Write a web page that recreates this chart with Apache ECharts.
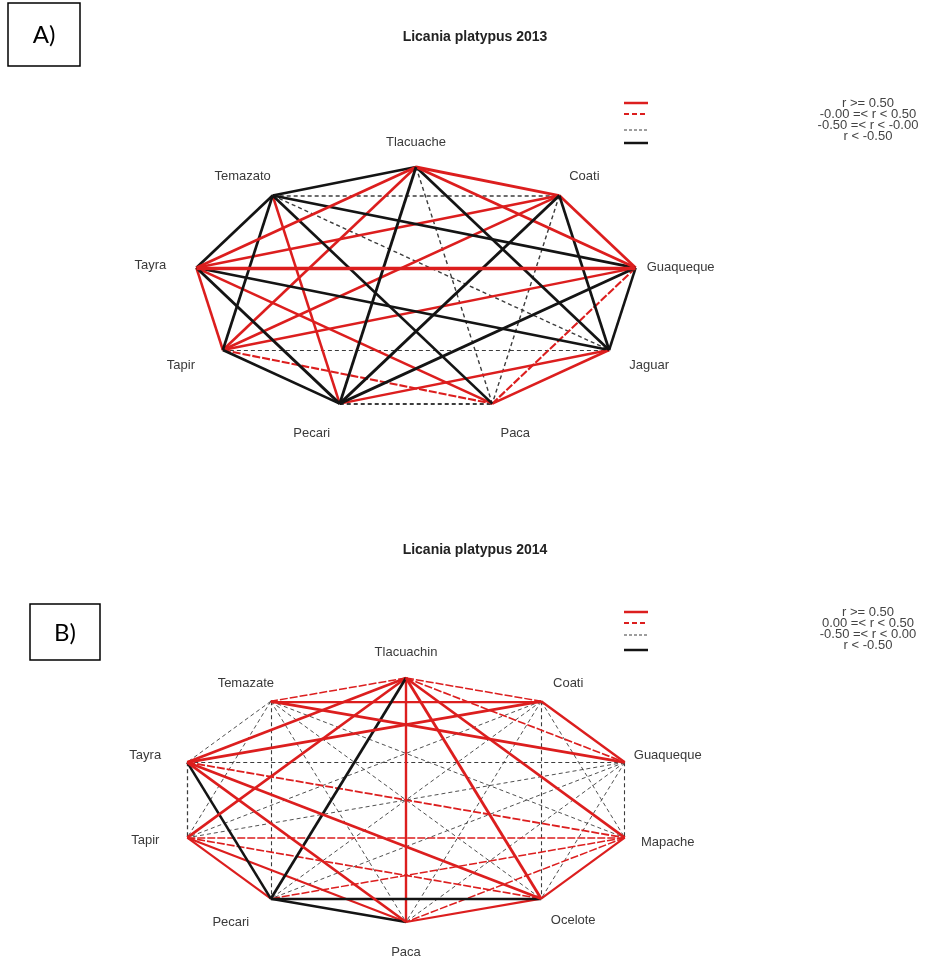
<!DOCTYPE html>
<html>
<head>
<meta charset="utf-8">
<script src="https://cdn.jsdelivr.net/npm/echarts@6/dist/echarts.min.js"></script>
<style>
html,body{margin:0;padding:0;background:#fff;}
#chart{width:937px;height:961px;}
</style>
</head>
<body>
<div id="chart"></div>
<script>
// ---------- DATA ----------
const titleA = 'Licania platypus 2013';
const titleB = 'Licania platypus 2014';
// nodes in circle-layout order (clockwise from the top)
const nodesA = ['Tlacuache','Coati','Guaqueque','Jaguar','Paca','Pecari','Tapir','Tayra','Temazato'];
const nodesB = ['Tlacuachin','Coati','Guaqueque','Mapache','Ocelote','Paca','Pecari','Tapir','Tayra','Temazate'];
// edges: [source, target, r]
const edgesA = [
  ['Tlacuache','Temazato',-0.6],['Tlacuache','Coati',0.65],['Tlacuache','Tayra',0.65],['Tlacuache','Guaqueque',0.65],
  ['Tlacuache','Tapir',0.55],['Tlacuache','Jaguar',-0.6],['Tlacuache','Pecari',-0.65],['Tlacuache','Paca',-0.3],
  ['Temazato','Coati',-0.35],['Temazato','Tayra',-0.6],['Temazato','Guaqueque',-0.6],['Temazato','Tapir',-0.6],
  ['Temazato','Jaguar',-0.3],['Temazato','Pecari',0.55],['Temazato','Paca',-0.6],
  ['Coati','Tayra',0.55],['Coati','Guaqueque',0.6],['Coati','Tapir',0.55],['Coati','Jaguar',-0.6],
  ['Coati','Pecari',-0.65],['Coati','Paca',-0.3],
  ['Tayra','Guaqueque',0.8],['Tayra','Tapir',0.55],['Tayra','Jaguar',-0.55],['Tayra','Pecari',-0.65],['Tayra','Paca',0.55],
  ['Guaqueque','Tapir',0.5],['Guaqueque','Jaguar',-0.55],['Guaqueque','Pecari',-0.65],['Guaqueque','Paca',0.4],
  ['Tapir','Jaguar',-0.2],['Tapir','Pecari',-0.6],['Tapir','Paca',0.4],
  ['Jaguar','Pecari',0.5],['Jaguar','Paca',0.55],
  ['Pecari','Paca',-0.5]
];
const edgesB = [
  ['Tlacuachin','Temazate',0.3],['Tlacuachin','Coati',0.3],['Tlacuachin','Tayra',0.7],['Tlacuachin','Guaqueque',0.35],
  ['Tlacuachin','Tapir',0.7],['Tlacuachin','Mapache',0.7],['Tlacuachin','Pecari',-0.7],['Tlacuachin','Ocelote',0.75],
  ['Tlacuachin','Paca',0.6],
  ['Temazate','Coati',0.55],['Temazate','Tayra',-0.2],['Temazate','Guaqueque',0.7],['Temazate','Tapir',-0.2],
  ['Temazate','Mapache',-0.2],['Temazate','Pecari',-0.3],['Temazate','Ocelote',-0.2],['Temazate','Paca',-0.2],
  ['Coati','Tayra',0.7],['Coati','Guaqueque',0.6],['Coati','Tapir',-0.2],['Coati','Mapache',-0.2],
  ['Coati','Pecari',-0.2],['Coati','Ocelote',-0.3],['Coati','Paca',-0.2],
  ['Tayra','Guaqueque',-0.3],['Tayra','Tapir',-0.35],['Tayra','Mapache',0.4],['Tayra','Pecari',-0.65],
  ['Tayra','Ocelote',0.7],['Tayra','Paca',0.7],
  ['Guaqueque','Tapir',-0.2],['Guaqueque','Mapache',-0.3],['Guaqueque','Pecari',-0.2],['Guaqueque','Ocelote',-0.2],
  ['Guaqueque','Paca',-0.2],
  ['Tapir','Mapache',0.3],['Tapir','Pecari',0.5],['Tapir','Ocelote',0.35],['Tapir','Paca',0.5],
  ['Mapache','Pecari',0.3],['Mapache','Ocelote',0.5],['Mapache','Paca',0.3],
  ['Pecari','Ocelote',-0.6],['Pecari','Paca',-0.6],
  ['Ocelote','Paca',0.55]
];
const legendLabelsA = ['r >= 0.50','-0.00 =< r < 0.50','-0.50 =< r < -0.00','r < -0.50'];
const legendLabelsB = ['r >= 0.50','0.00 =< r < 0.50','-0.50 =< r < 0.00','r < -0.50'];

// ---------- STYLE ----------
const RED = '#dc1e1e', BLACK = '#141414', GREY = '#3c3c3c';
const labelOffsetA = {Tlacuache:[0,-25],Coati:[25,-19],Guaqueque:[45,0],Jaguar:[40,15],Paca:[23,30],
  Pecari:[-28,30],Tapir:[-42,15],Tayra:[-46,-2],Temazato:[-30,-19]};
const labelOffsetB = {Tlacuachin:[0,-26],Coati:[27,-18],Guaqueque:[43,-7],Mapache:[43,5],Ocelote:[32,22],
  Paca:[0,30],Pecari:[-40,24],Tapir:[-42,3],Tayra:[-42,-7],Temazate:[-25,-18]};

function edgeStyle(r, extra){
  const w = 0.6 + 3 * Math.abs(r) + extra;
  if (r >= 0.5) return {color: RED, width: w, type: 'solid', opacity: 1};
  if (r >= 0) return {color: RED, width: w, type: [8, 2], opacity: 1};
  if (r >= -0.5) return {color: GREY, width: Math.max(0.9, w - 0.4), type: [4, 3], opacity: 1};
  return {color: BLACK, width: w, type: 'solid', opacity: 1};
}

function buildSeries(nodes, edges, offsets, idx, extra){
  const n = nodes.length;
  const data = nodes.map((name, i) => {
    const a = (90 - i * 360 / n) * Math.PI / 180;
    return {
      name: name,
      value: [Math.cos(a), Math.sin(a)],
      label: {offset: offsets[name]}
    };
  });
  const links = edges.slice().sort((p, q) => Math.abs(p[2]) - Math.abs(q[2]))
    .map(e => ({source: e[0], target: e[1], lineStyle: edgeStyle(e[2], extra)}));
  return {
    type: 'graph',
    coordinateSystem: 'cartesian2d',
    xAxisIndex: idx, yAxisIndex: idx,
    symbol: 'circle', symbolSize: 2,
    itemStyle: {color: 'rgba(0,0,0,0)'},
    label: {show: true, position: 'inside', color: '#3a3a3a', fontSize: 13,
      fontFamily: 'Liberation Sans, Arial, sans-serif'},
    lineStyle: {opacity: 1},
    emphasis: {disabled: true},
    edgeSymbol: ['none','none'],
    data: data,
    links: links,
    silent: true,
    z: 2
  };
}

function legendGraphics(lineYs, textYs, labels){
  const els = [];
  const styles = [
    {stroke: RED, lineWidth: 2.5},
    {stroke: RED, lineWidth: 1.8, lineDash: [5, 3]},
    {stroke: GREY, lineWidth: 1, lineDash: [3, 2]},
    {stroke: BLACK, lineWidth: 2.5}
  ];
  lineYs.forEach((y, i) => {
    els.push({type: 'line', shape: {x1: 624, y1: y, x2: 648, y2: y}, style: styles[i]});
  });
  textYs.forEach((y, i) => {
    els.push({type: 'text', x: 868, y: y, style: {text: labels[i], fill: '#444',
      font: '13px Liberation Sans, Arial', textAlign: 'center', textVerticalAlign: 'middle'}});
  });
  return els;
}

const chart = echarts.init(document.getElementById('chart'), null, {renderer: 'canvas'});
const option = {
  animation: false,
  backgroundColor: '#fff',
  title: [
    {text: titleA, left: 470, top: 25, textAlign: 'center',
      textStyle: {fontSize: 14, fontWeight: 'bold', color: '#222', fontFamily: 'Liberation Sans, Arial'}},
    {text: titleB, left: 470, top: 538, textAlign: 'center',
      textStyle: {fontSize: 14, fontWeight: 'bold', color: '#222', fontFamily: 'Liberation Sans, Arial'}}
  ],
  grid: [
    {left: 193, width: 446, top: 167, height: 244},
    {left: 176, width: 460, top: 678, height: 244}
  ],
  xAxis: [
    {type: 'value', min: -1, max: 1, show: false, gridIndex: 0},
    {type: 'value', min: -1, max: 1, show: false, gridIndex: 1}
  ],
  yAxis: [
    {type: 'value', min: -1, max: 1, show: false, gridIndex: 0},
    {type: 'value', min: -1, max: 1, show: false, gridIndex: 1}
  ],
  graphic: [
    {type: 'rect', shape: {x: 8, y: 3, width: 72, height: 63}, style: {fill: '#fff', stroke: '#000', lineWidth: 1.5}},
    {type: 'text', x: 44, y: 35, style: {text: 'A)', fill: '#000', font: '24px Lato, Carlito, sans-serif',
      textAlign: 'center', textVerticalAlign: 'middle'}},
    {type: 'rect', shape: {x: 30, y: 604, width: 70, height: 56}, style: {fill: '#fff', stroke: '#000', lineWidth: 1.5}},
    {type: 'text', x: 65, y: 633, style: {text: 'B)', fill: '#000', font: '24px Lato, Carlito, sans-serif',
      textAlign: 'center', textVerticalAlign: 'middle'}}
  ].concat(
    legendGraphics([103, 114, 130, 143], [103, 114, 125, 136], legendLabelsA),
    legendGraphics([612, 623, 635, 650], [612, 623, 634, 645], legendLabelsB)
  ),
  series: [
    buildSeries(nodesA, edgesA, labelOffsetA, 0, 0.3),
    buildSeries(nodesB, edgesB, labelOffsetB, 1, 0)
  ]
};
chart.setOption(option);
</script>
</body>
</html>
